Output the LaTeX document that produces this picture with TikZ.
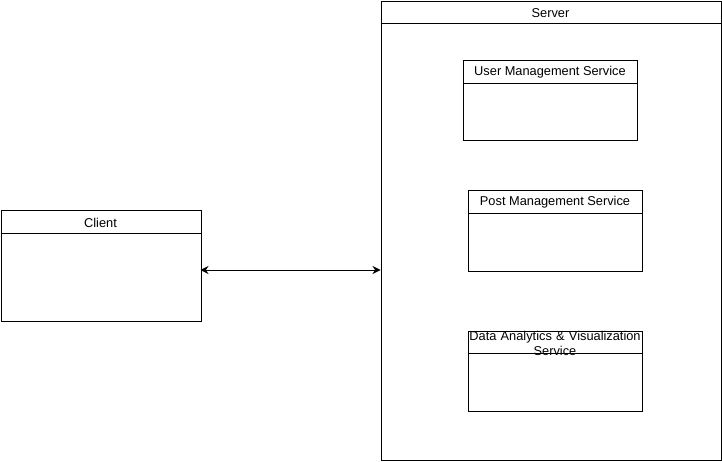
\documentclass[tikz,border=0pt]{standalone}
\usepackage{fontspec}
\setmainfont{Liberation Sans}
\usetikzlibrary{arrows.meta}
\tikzset{
  box/.style={draw, line width=0.9pt, rectangle, anchor=north west, inner sep=0pt},
  title/.style={font=\fontsize{12.8}{15}\selectfont, align=center, inner sep=0pt},
  link/.style={line width=1pt, {Stealth[length=8pt,width=8pt]}-{Stealth[length=8pt,width=8pt]}}
}
\begin{document}
\begin{tikzpicture}[x=1pt,y=-1pt]
\useasboundingbox (0,0) rectangle (722,462);
% Server
\node[box, minimum width=340pt, minimum height=459pt] (server) at (380.5,1) {};
\draw[line width=0.9pt] (380.5,23) -- (720.5,23);
\node[title] (servert) at (550.5,13) {Server};
% User Management
\node[box, minimum width=174pt, minimum height=80pt] (ums) at (463,60.5) {};
\draw[line width=0.9pt] (463,83) -- (637,83);
\node[title] (umst) at (550,72.5) {User Management Service};
% Post Management
\node[box, minimum width=174pt, minimum height=80pt] (pms) at (468,190.5) {};
\draw[line width=0.9pt] (468,213) -- (642,213);
\node[title] (pmst) at (555,202.5) {Post Management Service};
% Data Analytics
\node[box, minimum width=174pt, minimum height=80pt] (das) at (468,330.5) {};
\draw[line width=0.9pt] (468,353) -- (642,353);
\node[title, text width=190pt] (dast) at (555,343) {Data Analytics \& Visualization\\Service};
% Client
\node[box, minimum width=200pt, minimum height=110pt] (client) at (0.5,210.5) {};
\draw[line width=0.9pt] (0.5,233) -- (200.5,233);
\node[title] (clientt) at (100.5,222.5) {Client};
% Connector
\coordinate (cend) at (200.5,270);
\coordinate (send) at (380.5,270);
\draw[link] (cend) -- (send);
\end{tikzpicture}
\end{document}
